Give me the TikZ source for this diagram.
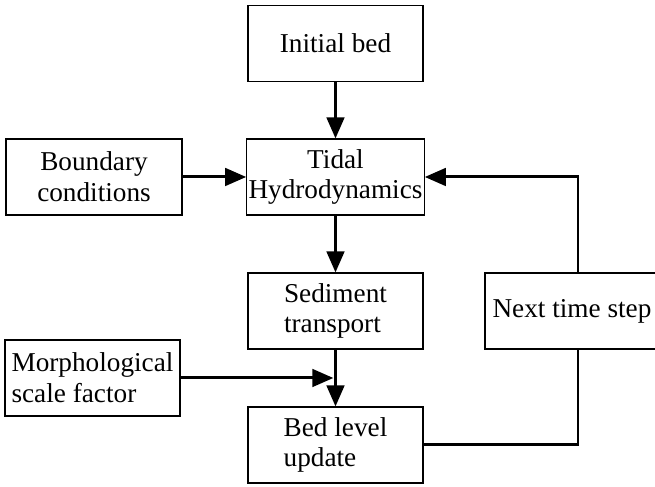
\documentclass[tikz,border=0pt]{standalone}
\usepackage{fontspec}
\setmainfont{Liberation Serif}
\usetikzlibrary{arrows.meta}

\begin{document}
\begin{tikzpicture}[
    box/.style={draw,line width=0.6pt,minimum width=3.5cm,minimum height=1.52cm,
      align=center,inner xsep=1pt,font=\fontsize{15.5}{17.5}\selectfont},
    flow/.style={line width=1.7pt,-{Triangle[length=12pt,width=10pt]}},
    link/.style={line width=1.7pt}
  ]
        \useasboundingbox (0,0) rectangle (13.1,9.74);
        % middle column
        \node[box] (init)  at (6.71,8.87) {Initial bed};
        \node[box] (tidal) at (6.71,6.20) {Tidal\\Hydrodynamics};
        \node[box,align=left] (sed) at (6.71,3.52) {Sediment\\transport};
        \node[box,align=left] (bed) at (6.71,0.84) {Bed level\\update};
        % inputs on the left
        \node[box,minimum width=3.52cm] (bound) at (1.88,6.20) {Boundary\\conditions};
        \node[box,align=left] (morph) at (1.85,2.18) {Morphological\\scale factor};
        % feedback box, cut by the right edge
        \node[box,minimum width=3.48cm] (next) at (11.44,3.52) {Next time step};
        \coordinate (join) at (6.71,2.18);
        \coordinate (loop) at ([xshift=0.12cm]next.north);
        % arrows
        \draw[flow] (init) -- (tidal);
        \draw[flow] (bound) -- (tidal);
        \draw[flow] (tidal) -- (sed);
        \draw[flow] (sed) -- (bed);
        \draw[flow] (morph) -- ([xshift=-1.2pt]join);
        \draw[link] (bed.east) -| ([xshift=0.12cm]next.south);
        \draw[flow] (loop) |- (tidal.east);
      \end{tikzpicture}
\end{document}
